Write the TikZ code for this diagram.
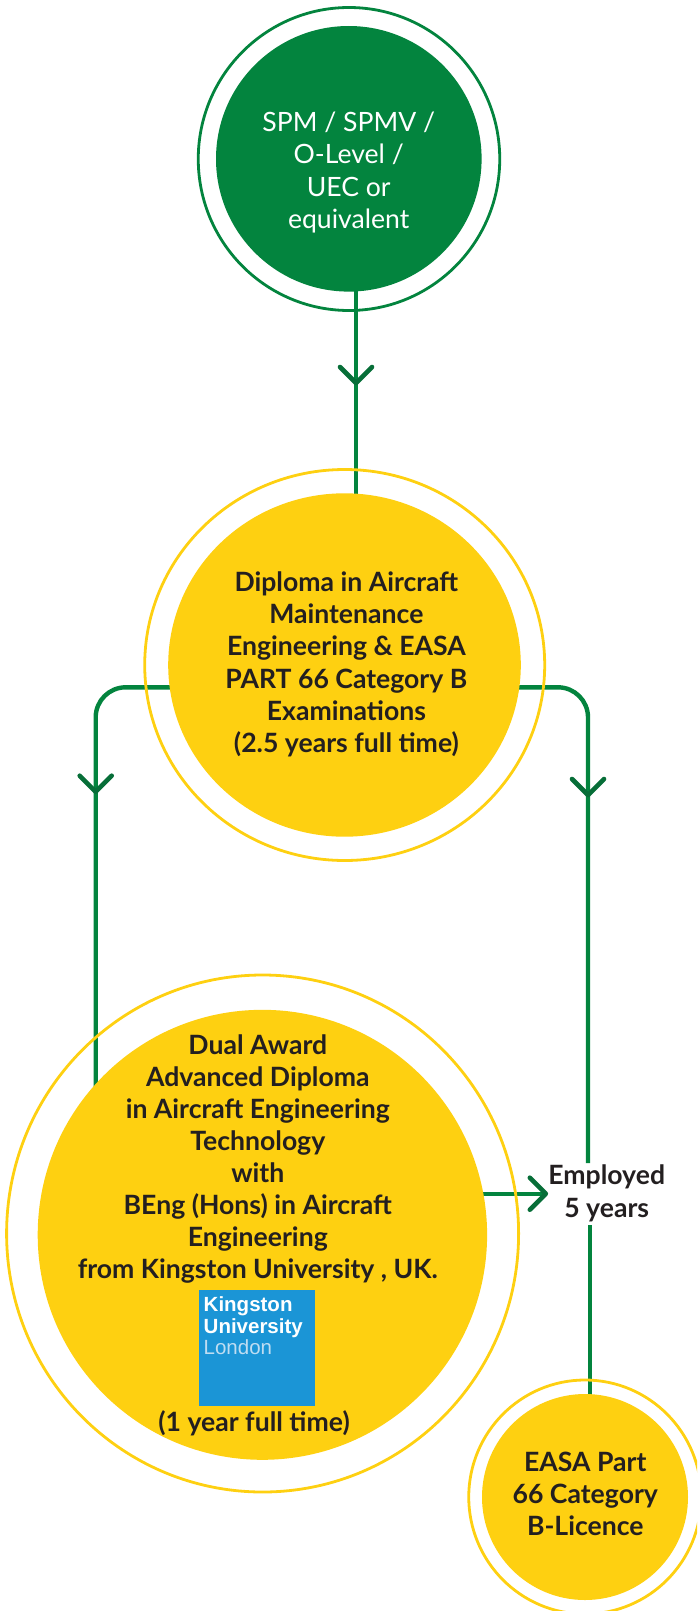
\documentclass[tikz,border=0pt]{standalone}
\usepackage{fontspec}
\usetikzlibrary{shapes.geometric}
\setmainfont{Lato}
\newfontfamily\logofont{Liberation Sans}
\definecolor{gfill}{HTML}{03843E}
\definecolor{gline}{HTML}{03843E}
\definecolor{gchev}{HTML}{076E38}
\definecolor{yfill}{HTML}{FED011}
\definecolor{ink}{HTML}{231F20}
\definecolor{kblue}{HTML}{1B95D6}
\definecolor{klight}{HTML}{BFDDF2}
\newcommand{\topstrut}{\rule{0pt}{20pt}}
\newcommand{\botstrut}{\rule[-20pt]{0pt}{20pt}}
\tikzset{
  ring/.style={ellipse,draw=#1,line width=2.8pt,inner sep=0pt,outer sep=0pt,fill=none},
  disc/.style={ellipse,fill=#1,draw=none,inner sep=0pt,outer sep=0pt},
  flow/.style={draw=gline,line width=4.4pt},
  chev/.style={draw=gchev,line width=4.6pt,line cap=round,line join=round},
  label/.style={align=center,inner sep=0pt,outer sep=0pt,text=ink,font=\fontsize{26.6}{32.1}\selectfont\bfseries},
  toplabel/.style={label,text=white,font=\fontsize{26.6}{32.1}\selectfont}
}
\begin{document}
\begin{tikzpicture}[x=1pt,y=-1pt]
\useasboundingbox (0,0) rectangle (697,1611);
\clip (0,0) rectangle (697,1611);
% layout coordinates
\coordinate (a0) at (356,383);
\coordinate (aL) at (95.7,791.7);
\coordinate (aR) at (588,795);
\coordinate (aE) at (545.8,1193.7);
\coordinate (cornerL) at (95.7,687.3);
\coordinate (cornerR) at (588,687.3);
\coordinate (startL) at (200,687.3);
\coordinate (startR) at (500,687.3);
\coordinate (endL) at (95.7,1090);
\coordinate (endRup) at (588,1163);
\coordinate (startRlow) at (589.8,1225);
\coordinate (endRlow) at (589.8,1410);
\coordinate (t0) at (356,280);
\coordinate (t1) at (356,510);
\coordinate (startE) at (470,1193.7);
% connectors (beneath the circles)
\draw[flow] (t0) -- (t1);
\draw[flow,rounded corners=30pt] (startL) -- (cornerL) -- (endL);
\draw[flow,rounded corners=30pt] (startR) -- (cornerR) -- (endRup);
\draw[flow] (startRlow) -- (endRlow);
\draw[flow] (startE) -- (aE);
\draw[chev] (a0) ++(-16,-16) -- (a0) -- ++(16,-16);
\draw[chev] (aL) ++(-16,-16) -- (aL) -- ++(16,-16);
\draw[chev] (aR) ++(-16,-16) -- (aR) -- ++(16,-16);
\draw[chev] (aE) ++(-16,-16) -- (aE) -- ++(-16,16);
% circles
\node[ring=gfill,minimum width=301.5pt,minimum height=303pt] (spmring) at (349,159) {};
\node[disc=gfill,minimum width=265.6pt,minimum height=265.6pt] (spm) at (348.8,158.8) {};
\node[ring=yfill,minimum width=400pt,minimum height=391pt] (dipring) at (344.7,665) {};
\node[disc=yfill,minimum width=352.6pt,minimum height=343.4pt] (dip) at (344.5,665) {};
\node[ring=yfill,minimum width=512pt,minimum height=517pt] (dualring) at (262.6,1233.5) {};
\node[disc=yfill,minimum width=449.4pt,minimum height=450pt] (dual) at (262.4,1234.8) {};
\node[ring=yfill,minimum width=232.5pt,minimum height=234pt] (easaring) at (585,1497) {};
\node[disc=yfill,minimum width=206pt,minimum height=206pt] (easa) at (585,1497) {};
% texts
\node[toplabel] (spmtext) at (348.7,180) {\topstrut SPM / SPMV /\\O-Level /\\UEC or\\equivalent\botstrut};
\node[label] (diptext) at (346.4,672) {\topstrut Diploma in Aircraft\\Maintenance\\Engineering \& EASA\\PART 66 Category B\\Examinations\\(2.5 years full time)\botstrut};
\node[label] (dualtext) at (257.8,1166.6) {\topstrut Dual Award\\Advanced Diploma\\in Aircraft Engineering\\Technology\\with\\BEng (Hons) in Aircraft\\Engineering\\from Kingston University , UK.\botstrut};
\node[label,anchor=base] (timetext) at (254,1431) {(1 year full time)};
\node[label] (emptext) at (606.7,1201) {\topstrut Employed\\5 years\botstrut};
\node[label] (easatext) at (585.3,1503.7) {\topstrut EASA Part\\66 Category\\B-Licence\botstrut};
% logo
\node[fill=kblue,minimum width=116pt,minimum height=116pt,inner sep=0pt,outer sep=0pt] (logo) at (257,1348) {};
\node[anchor=base west,inner sep=0pt,text=white,font=\logofont\bfseries\fontsize{20.5}{21.5}\selectfont] (logotextA) at (203.5,1311.8) {Kingston};
\node[anchor=base west,inner sep=0pt,text=white,font=\logofont\bfseries\fontsize{20.5}{21.5}\selectfont] (logotextB) at (203.5,1333.2) {University};
\node[anchor=base west,inner sep=0pt,text=klight,font=\logofont\fontsize{20.5}{21.5}\selectfont] (logoplace) at (203.5,1354.6) {London};
\end{tikzpicture}
\end{document}
